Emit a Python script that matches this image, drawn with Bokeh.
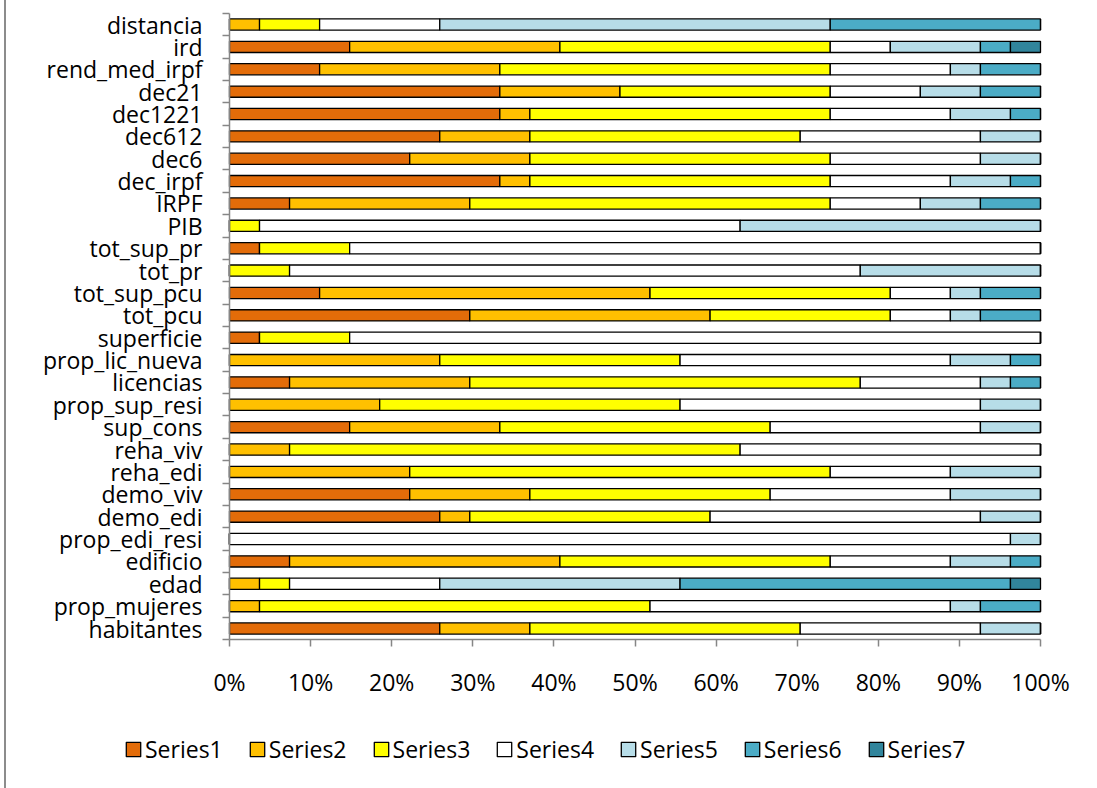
from bokeh.plotting import figure
from bokeh.models import (ColumnDataSource, FixedTicker, Legend, LegendItem,
                          LinearAxis, Range1d)
from bokeh.embed import file_html
from bokeh.resources import INLINE

# Variables, listed from the bottom bar to the top bar
categories = [
    "habitantes", "prop_mujeres", "edad", "edificio", "prop_edi_resi",
    "demo_edi", "demo_viv", "reha_edi", "reha_viv", "sup_cons",
    "prop_sup_resi", "licencias", "prop_lic_nueva", "superficie", "tot_pcu",
    "tot_sup_pcu", "tot_pr", "tot_sup_pr", "PIB", "IRPF", "dec_irpf",
    "dec6", "dec612", "dec1221", "dec21", "rend_med_irpf", "ird", "distancia",
]

# Counts per series for each variable (same order as categories)
series1 = [7, 0, 0, 2, 0, 7, 6, 0, 0, 4, 0, 2, 0, 1, 8, 3, 0, 1, 0, 2, 9, 6, 7, 9, 9, 3, 4, 0]
series2 = [3, 1, 1, 9, 0, 1, 4, 6, 2, 5, 5, 6, 7, 0, 8, 11, 0, 0, 0, 6, 1, 4, 3, 1, 4, 6, 7, 1]
series3 = [9, 13, 1, 9, 0, 8, 8, 14, 15, 9, 10, 13, 8, 3, 6, 8, 2, 3, 1, 12, 10, 10, 9, 10, 7, 11, 9, 2]
series4 = [6, 10, 5, 4, 26, 9, 6, 4, 10, 7, 10, 4, 9, 23, 2, 2, 19, 23, 16, 3, 4, 5, 6, 4, 3, 4, 2, 4]
series5 = [2, 1, 8, 2, 1, 2, 3, 3, 0, 2, 2, 1, 2, 0, 1, 1, 6, 0, 10, 2, 2, 2, 2, 2, 2, 1, 3, 13]
series6 = [0, 2, 11, 1, 0, 0, 0, 0, 0, 0, 0, 1, 1, 0, 2, 2, 0, 0, 0, 2, 1, 0, 0, 1, 2, 2, 1, 7]
series7 = [0, 0, 1, 0, 0, 0, 0, 0, 0, 0, 0, 0, 0, 0, 0, 0, 0, 0, 0, 0, 0, 0, 0, 0, 0, 0, 1, 0]

series_names = ["Series1", "Series2", "Series3", "Series4", "Series5", "Series6", "Series7"]
series_colors = ["#E36C09", "#FFC000", "#FFFF00", "#FFFFFF", "#B7DDE8", "#4BACC6", "#31859C"]
x_ticks = [0, 10, 20, 30, 40, 50, 60, 70, 80, 90, 100]

FONT = "Open Sans"
FONT_SIZE = "23px"
AXIS_GREY = "#868686"
W, H = 1091, 788

all_series = [series1, series2, series3, series4, series5, series6, series7]
n = len(categories)
totals = [sum(col) for col in zip(*all_series)]

data = {"pos": list(range(n)), "cat": categories}
for name, vals in zip(series_names, all_series):
    data[name] = [100.0 * v / t for v, t in zip(vals, totals)]
source = ColumnDataSource(data)

# The frame fills the whole canvas; the ranges leave room for the category
# names on the left and for the tick labels and legend underneath.
p = figure(
    width=W, height=H,
    x_range=Range1d(-27.497, 107.028), y_range=Range1d(-7.152, 28.074),
    x_axis_location=None, y_axis_location=None,
    output_backend="svg", toolbar_location=None, min_border=0,
)
p.styles = {"border-left": "2px solid #8c8c8c", "margin-left": "4px"}
p.outline_line_color = None
p.grid.visible = False

renderers = p.hbar_stack(
    series_names, y="pos", height=0.5, source=source,
    fill_color=series_colors, line_color="black", line_width=1.3,
)

# Category axis at 0 %: names at bar centres, tick marks between bars
yaxis = LinearAxis(fixed_location=0, bounds=(-0.5, n - 0.5))
yaxis.ticker = FixedTicker(ticks=list(range(n)), minor_ticks=[i - 0.5 for i in range(n + 1)])
yaxis.major_label_overrides = {i: c for i, c in enumerate(categories)}
yaxis.major_tick_out = 0
yaxis.major_tick_in = 0
yaxis.minor_tick_out = 7
yaxis.minor_tick_in = 0
yaxis.major_label_standoff = 20

# Percentage axis under the last bar
xaxis = LinearAxis(fixed_location=-0.5, bounds=(0, 100))
xaxis.ticker = FixedTicker(ticks=x_ticks, minor_ticks=[])
xaxis.major_label_overrides = {t: f"{t}%" for t in x_ticks}
xaxis.major_tick_out = 7
xaxis.major_tick_in = 0
xaxis.major_label_standoff = 19

for ax in (xaxis, yaxis):
    ax.axis_line_color = AXIS_GREY
    ax.axis_line_width = 1.5
    ax.major_tick_line_color = AXIS_GREY
    ax.minor_tick_line_color = AXIS_GREY
    ax.major_tick_line_width = 1.5
    ax.minor_tick_line_width = 1.5
    ax.major_label_text_font = FONT
    ax.major_label_text_font_size = FONT_SIZE
    ax.major_label_text_color = "black"

p.add_layout(yaxis, "left")
p.add_layout(xaxis, "below")

# Legend row along the bottom of the chart
legend = Legend(
    items=[LegendItem(label=nm, renderers=[r]) for nm, r in zip(series_names, renderers)],
    orientation="horizontal", location=(118, 23),
    label_text_font=FONT, label_text_font_size=FONT_SIZE, label_text_color="black",
    glyph_width=18, glyph_height=18, label_standoff=3, spacing=25,
    padding=2, margin=0, border_line_color=None, background_fill_alpha=0,
)
p.add_layout(legend, "center")

open("out.html", "w").write(file_html(p, INLINE))
